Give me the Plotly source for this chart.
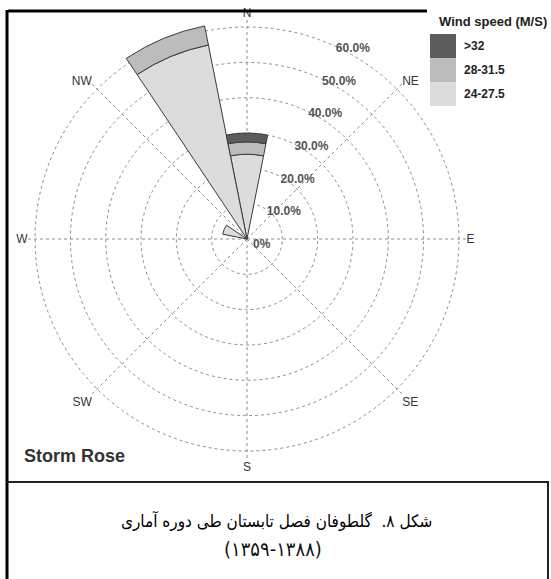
import plotly.graph_objects as go

# ---- data ----
directions = ["N", "NNE", "NE", "ENE", "E", "ESE", "SE", "SSE",
              "S", "SSW", "SW", "WSW", "W", "WNW", "NW", "NNW"]
dir_angles = [i * 22.5 for i in range(16)]
speed_bins = ["24-27.5", "28-31.5", ">32"]
freq_24_27 = [24, 0, 0, 0, 0, 0, 0, 0, 0, 0, 0, 0, 0, 7, 0, 56]
freq_28_31 = [3.5, 0, 0, 0, 0, 0, 0, 0, 0, 0, 0, 0, 0, 0, 0, 5.5]
freq_32 = [2.5, 0, 0, 0, 0, 0, 0, 0, 0, 0, 0, 0, 0, 0, 0, 0]
bin_colors = ["#dcdcdc", "#bcbcbc", "#5c5c5c"]

radial_ticks = [0, 10, 20, 30, 40, 50, 60]
radial_ticktext = ["0%", "10.0%", "20.0%", "30.0%", "40.0%", "50.0%", "60.0%"]
compass_vals = [0, 45, 90, 135, 180, 225, 270, 315]
compass_text = ["N", "NE", "E", "SE", "S", "SW", "W", "NW"]

W, H = 551, 579

fig = go.Figure()
for name, vals, col in zip(speed_bins, [freq_24_27, freq_28_31, freq_32], bin_colors):
    fig.add_trace(go.Barpolar(
        r=vals, theta=dir_angles, width=22.5, name=name,
        marker=dict(color=col, line=dict(color="#3a3a3a", width=1)),
        showlegend=False,
    ))

def px_x(x):
    return x / W

def px_y(y):
    return 1 - y / H

grid_col = "#8c8c8c"
fig.update_layout(
    width=W, height=H,
    margin=dict(l=0, r=0, t=0, b=0),
    paper_bgcolor="white",
    polar=dict(
        domain=dict(x=[px_x(28), px_x(466)], y=[px_y(458), px_y(20)]),
        bgcolor="rgba(0,0,0,0)",
        barmode="stack",
        radialaxis=dict(
            range=[0, 62], tickvals=radial_ticks,
            ticktext=["<b>" + t + "</b>" for t in radial_ticktext],
            showline=False, ticks="", angle=67, tickangle=67,
            gridcolor=grid_col, griddash="3px,3px", gridwidth=1,
            tickfont=dict(family="Liberation Sans", size=12, color="#555555"),
        ),
        angularaxis=dict(
            direction="clockwise", rotation=90,
            tickmode="array", tickvals=compass_vals, ticktext=compass_text,
            showline=False, ticks="",
            gridcolor=grid_col, griddash="3px,3px", gridwidth=1,
            tickfont=dict(family="Liberation Sans", size=12, color="#333333"),
        ),
    ),
)

shapes = []
# frame lines
shapes.append(dict(type="line", xref="paper", yref="paper",
                   x0=px_x(8), x1=px_x(427), y0=px_y(11), y1=px_y(11),
                   line=dict(color="black", width=3)))
shapes.append(dict(type="line", xref="paper", yref="paper",
                   x0=px_x(7), x1=px_x(7), y0=px_y(10), y1=px_y(579),
                   line=dict(color="black", width=3)))
shapes.append(dict(type="line", xref="paper", yref="paper",
                   x0=px_x(7), x1=px_x(549), y0=px_y(482), y1=px_y(482),
                   line=dict(color="#222222", width=2)))
shapes.append(dict(type="line", xref="paper", yref="paper",
                   x0=px_x(548), x1=px_x(548), y0=px_y(482), y1=px_y(579),
                   line=dict(color="#222222", width=2)))

# manual legend blocks
legend_order = [2, 1, 0]
annotations = []
for i, idx in enumerate(legend_order):
    y0 = 34 + i * 24
    shapes.append(dict(type="rect", xref="paper", yref="paper",
                       x0=px_x(430), x1=px_x(456), y0=px_y(y0 + 24), y1=px_y(y0),
                       fillcolor=bin_colors[idx], line=dict(width=0)))
    annotations.append(dict(xref="paper", yref="paper", x=px_x(462), y=px_y(y0 + 12),
                            text="<b>" + speed_bins[idx].replace(">", "&gt;") + "</b>",
                            showarrow=False, xanchor="left", yanchor="middle",
                            font=dict(family="Liberation Sans", size=12, color="#222222")))

annotations.append(dict(xref="paper", yref="paper", x=px_x(549), y=px_y(22),
                        text="<b>Wind speed (M/S)</b>", showarrow=False,
                        xanchor="right", yanchor="middle",
                        font=dict(family="Liberation Sans", size=13, color="#222222")))
annotations.append(dict(xref="paper", yref="paper", x=px_x(22), y=px_y(456),
                        text="<b>Storm Rose</b>", showarrow=False,
                        xanchor="left", yanchor="middle",
                        font=dict(family="Liberation Sans", size=18, color="#333333")))

caption1 = "شکل ۸.  گلطوفان فصل تابستان طی دوره آماری"
caption2 = "(۱۳۵۹-۱۳۸۸)"
annotations.append(dict(xref="paper", yref="paper", x=px_x(276), y=px_y(520),
                        text=caption1, showarrow=False, xanchor="center", yanchor="middle",
                        font=dict(family="DejaVu Sans Condensed, DejaVu Sans", size=17, color="black")))
annotations.append(dict(xref="paper", yref="paper", x=px_x(273), y=px_y(549),
                        text=caption2, showarrow=False, xanchor="center", yanchor="middle",
                        font=dict(family="DejaVu Sans Condensed, DejaVu Sans", size=20, color="#111111")))

fig.update_layout(shapes=shapes, annotations=annotations)
fig.write_html("out.html", config={"displayModeBar": False},
               post_script="document.body.style.margin='0px';")
